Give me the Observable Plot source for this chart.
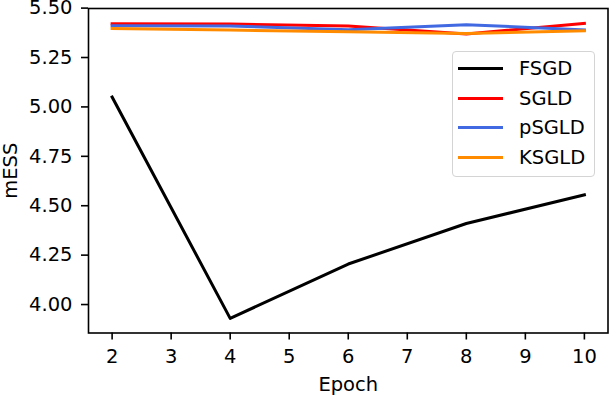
<!DOCTYPE html>
<html>
<head>
<meta charset="utf-8">
<script src="https://cdn.jsdelivr.net/npm/d3@7"></script>
<script src="https://cdn.jsdelivr.net/npm/@observablehq/plot@0.6"></script>
<style>
  html, body { margin: 0; padding: 0; background: white; }
  #wrap { position: relative; width: 610px; height: 396px; font-family: "DejaVu Sans", sans-serif; }
  #legend { position: absolute; left: 452px; top: 51px; width: 143px; height: 126px; box-sizing: border-box;
    border: 1.3px solid #d4d4d4; border-radius: 4px; background: rgba(255,255,255,0.8); }
  .row { position: absolute; left: 0; height: 30px; display: flex; align-items: center; font-size: 19.5px; color: black; }
  .sw { position: absolute; left: 5px; width: 45px; height: 3px; }
  .lb { position: absolute; left: 66px; white-space: nowrap; }
</style>
</head>
<body>
<div id="wrap"><div id="legend"></div></div>
<script>
const epochs = [2, 4, 6, 8, 10];
const seriesNames = ["FSGD", "SGLD", "pSGLD", "KSGLD"];
const seriesColors = ["#000000", "#ff0000", "#4169e1", "#ff8c00"];
const fsgd  = [5.05, 3.93, 4.205, 4.41, 4.555];
const sgld  = [5.421, 5.419, 5.410, 5.369, 5.423];
const psgld = [5.411, 5.409, 5.391, 5.416, 5.390];
const ksgld = [5.397, 5.389, 5.380, 5.372, 5.385];
const xTicks = [2, 3, 4, 5, 6, 7, 8, 9, 10];
const yTicks = [4.00, 4.25, 4.50, 4.75, 5.00, 5.25, 5.50];

const seriesValues = [fsgd, sgld, psgld, ksgld];
const rows = [];
seriesNames.forEach((name, i) => {
  epochs.forEach((e, j) => rows.push({series: name, epoch: e, value: seriesValues[i][j]}));
});

const chart = Plot.plot({
  width: 610,
  height: 396,
  marginLeft: 88,
  marginRight: 2.5,
  marginTop: 8,
  marginBottom: 63.5,
  style: {fontFamily: "DejaVu Sans", fontSize: "19.5px", background: "white", color: "black"},
  x: {domain: [1.6, 10.4]},
  y: {domain: [3.856, 5.498]},
  color: {type: "ordinal", domain: seriesNames, range: seriesColors},
  marks: [
    Plot.axisX({ticks: xTicks, tickFormat: d3.format("d"), tickSize: 7, tickPadding: 9, strokeWidth: 1.6,
      label: "Epoch", labelAnchor: "center", labelOffset: 58, labelArrow: "none"}),
    Plot.axisY({ticks: yTicks, tickFormat: d3.format(".2f"), tickSize: 7, tickPadding: 9, strokeWidth: 1.6,
      label: "mESS", labelAnchor: "center", labelArrow: "none"}),
    Plot.line(rows, {x: "epoch", y: "value", z: "series", stroke: "series", strokeWidth: 3,
      strokeLinejoin: "round", strokeLinecap: "square"}),
    Plot.frame({stroke: "black", strokeWidth: 1.6})
  ]
});
document.getElementById("wrap").prepend(chart);

const legend = document.getElementById("legend");
seriesNames.forEach((name, i) => {
  const r = document.createElement("div");
  r.className = "row";
  r.style.top = (1.5 + i * 29.7) + "px";
  r.style.width = "100%";
  const sw = document.createElement("div");
  sw.className = "sw";
  sw.style.background = seriesColors[i];
  const lb = document.createElement("div");
  lb.className = "lb";
  lb.textContent = name;
  r.appendChild(sw);
  r.appendChild(lb);
  legend.appendChild(r);
});
</script>
</body>
</html>
